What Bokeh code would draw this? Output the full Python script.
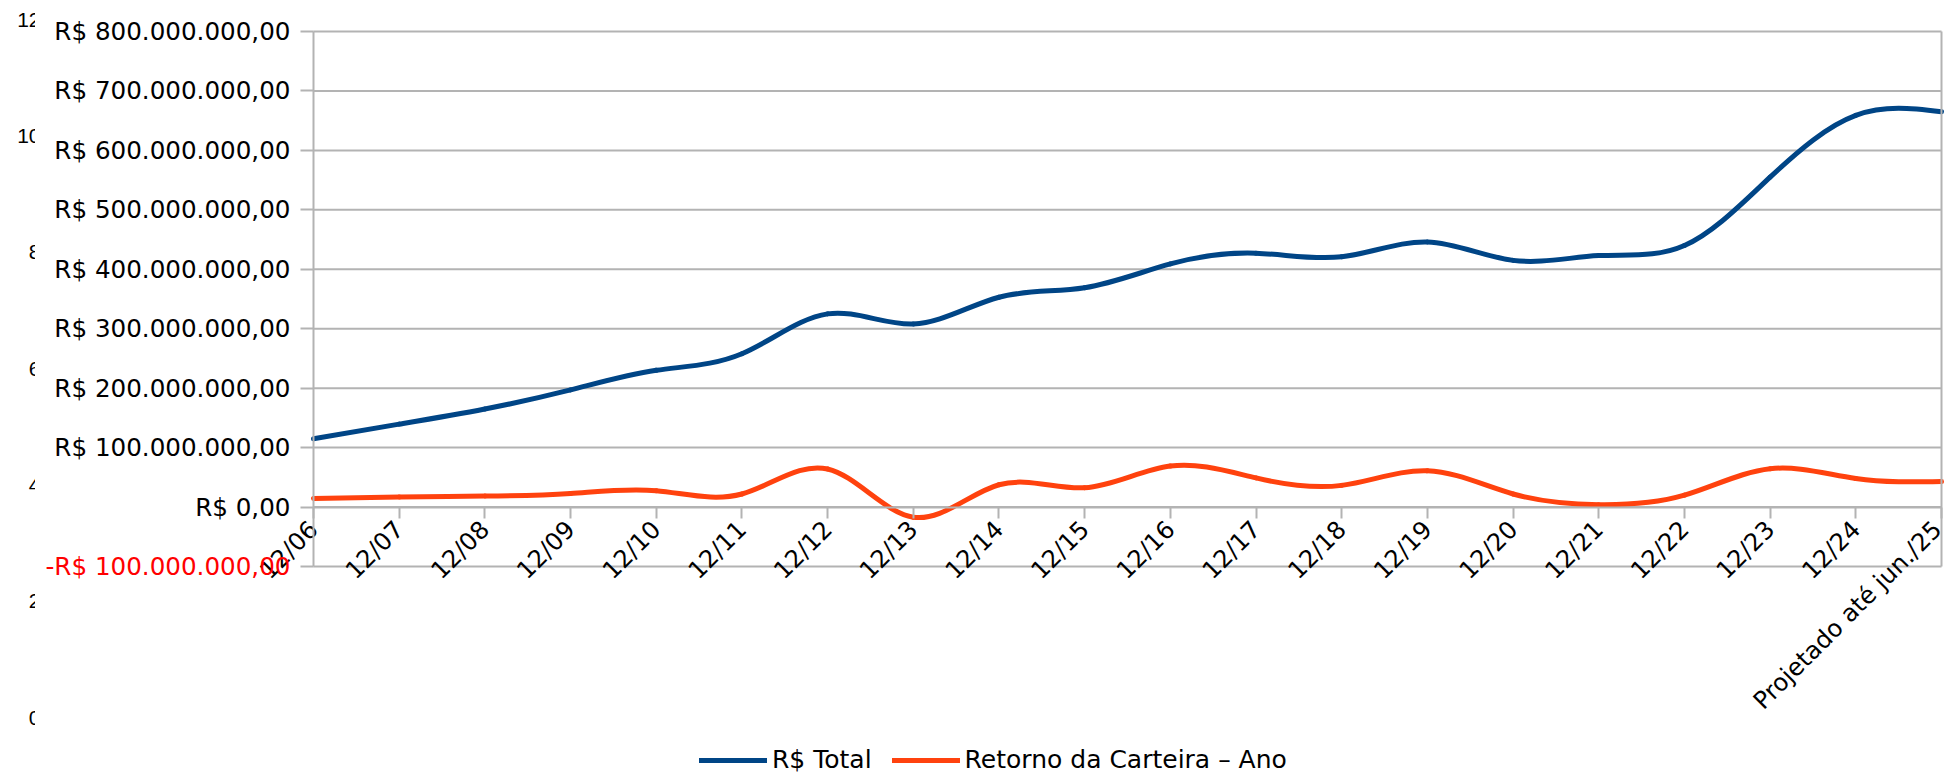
import math
import numpy as np
from bokeh.plotting import figure
from bokeh.models import (Range1d, FixedTicker, LinearAxis, Legend, LegendItem,
                          ColumnDataSource)
from bokeh.layouts import row
from bokeh.core.properties import value
from bokeh.embed import file_html
from bokeh.resources import INLINE

# ---------------- data ----------------
categories = ["12/06", "12/07", "12/08", "12/09", "12/10", "12/11", "12/12", "12/13",
              "12/14", "12/15", "12/16", "12/17", "12/18", "12/19", "12/20", "12/21",
              "12/22", "12/23", "12/24", "Projetado até jun./25"]
total_mi = [115, 139.5, 165, 197, 230, 258, 325, 308, 353, 369, 409, 427, 421, 446,
            415, 423, 440, 555, 659, 665]
retorno_mi = [14.6, 17, 18.5, 23, 27.5, 22, 64, -17, 37.5, 32.5, 69, 49, 36.5, 61,
              22, 4, 20, 64.5, 48, 43]
y_ticks = [-100000000, 0, 100000000, 200000000, 300000000, 400000000, 500000000,
           600000000, 700000000, 800000000]
ghost_ticks = [0, 2, 4, 6, 8, 10, 12]
series_names = ["R$ Total", "Retorno da Carteira – Ano"]

FONT = "DejaVu Sans"
GRID = "#b3b3b3"
BLUE = "#004586"
ORANGE = "#ff420e"


def brl(v):
    s = f"{abs(v):,.2f}".replace(",", "X").replace(".", ",").replace("X", ".")
    return ("-R$ " if v < 0 else "R$ ") + s


def spline_bezier(ys):
    """natural cubic spline through the points, expressed as bezier segments"""
    y = np.asarray(ys, dtype=float)
    n = len(y) - 1
    A = np.zeros((n + 1, n + 1))
    b = np.zeros(n + 1)
    A[0, 0] = 1
    A[n, n] = 1
    for i in range(1, n):
        A[i, i - 1] = 1
        A[i, i] = 4
        A[i, i + 1] = 1
        b[i] = 6 * (y[i + 1] - 2 * y[i] + y[i - 1])
    M = np.linalg.solve(A, b)
    x0 = np.arange(n, dtype=float)
    x1 = x0 + 1
    y0 = y[:-1]
    y1 = y[1:]
    d = y1 - y0
    dl = d - (2 * M[:-1] + M[1:]) / 6
    dr = d + (M[:-1] + 2 * M[1:]) / 6
    return dict(x0=x0, y0=y0, x1=x1, y1=y1,
                cx0=x0 + 1 / 3, cy0=y0 + dl / 3,
                cx1=x1 - 1 / 3, cy1=y1 - dr / 3)


total = [v * 1e6 for v in total_mi]
retorno = [v * 1e6 for v in retorno_mi]
n_last = len(categories) - 1
y_min, y_max = min(y_ticks), max(y_ticks)

# ---------------- layout (pixels) ----------------
W, H = 1947, 775
GW = 35                      # width of the clipped hidden-axis strip
FRAME_L, FRAME_R = 313, 1941  # x of first / last category
FRAME_T, FRAME_B = 31, 566    # y of top / bottom tick

# ---------------- hidden secondary axis (clipped labels) ----------------
upp = (max(ghost_ticks) - min(ghost_ticks)) / (717 - 19)
g = figure(width=GW, height=H, output_backend="svg", toolbar_location=None,
           x_range=Range1d(0, GW),
           y_range=Range1d(min(ghost_ticks) - (H - 717) * upp, max(ghost_ticks) + 19 * upp),
           x_axis_type=None, y_axis_type=None, min_border=0)
g.outline_line_color = None
g.xgrid.visible = False
g.ygrid.visible = False
g.text(x=[40] * len(ghost_ticks), y=ghost_ticks, text=[str(t) for t in ghost_ticks],
       text_font=value("Liberation Sans"), text_font_size="21px", text_color="#000000",
       text_align="right", text_baseline="middle")

# ---------------- main chart ----------------
MW = W - GW
ppx = (FRAME_R - FRAME_L) / n_last
ppy = (FRAME_B - FRAME_T) / (y_max - y_min)
x_range = Range1d(-(FRAME_L - GW) / ppx, n_last + (W - FRAME_R) / ppx)
y_range = Range1d(y_min - (H - FRAME_B) / ppy, y_max + FRAME_T / ppy)

p = figure(width=MW, height=H, output_backend="svg", toolbar_location=None,
           x_range=x_range, y_range=y_range, x_axis_type=None, y_axis_type=None,
           min_border=0)
p.outline_line_color = None
p.xgrid.visible = False
p.ygrid.visible = False
p.background_fill_color = "white"
p.border_fill_color = "white"

# horizontal grid lines across the category span
p.segment(x0=[0] * len(y_ticks), x1=[n_last] * len(y_ticks), y0=y_ticks, y1=y_ticks,
          line_color=GRID, line_width=2)


def style_y(ax, color):
    ax.axis_line_color = GRID
    ax.axis_line_width = 2
    ax.major_tick_line_color = GRID
    ax.major_tick_line_width = 2
    ax.major_tick_out = 13
    ax.major_tick_in = 0
    ax.minor_tick_line_color = None
    ax.major_label_standoff = 10
    ax.major_label_text_font = FONT
    ax.major_label_text_font_size = "24.6px"
    ax.major_label_text_color = color


pos_ticks = [t for t in y_ticks if t >= 0]
neg_ticks = [t for t in y_ticks if t < 0]
yax = LinearAxis(ticker=FixedTicker(ticks=pos_ticks),
                 major_label_overrides={t: brl(t) for t in pos_ticks},
                 fixed_location=0, bounds=(y_min, y_max))
style_y(yax, "#000000")
p.add_layout(yax, "left")

yneg = LinearAxis(ticker=FixedTicker(ticks=neg_ticks),
                  major_label_overrides={t: brl(t) for t in neg_ticks},
                  fixed_location=0, bounds=(y_min, y_max))
style_y(yneg, "#ff0000")
yneg.axis_line_color = None
p.add_layout(yneg, "left")

# right border of the plot area
yright = LinearAxis(ticker=FixedTicker(ticks=[]), fixed_location=n_last,
                    bounds=(y_min, y_max))
yright.axis_line_color = GRID
yright.axis_line_width = 2
yright.major_tick_line_color = None
yright.minor_tick_line_color = None
yright.major_label_text_font_size = "0px"
p.add_layout(yright, "right")

xax = LinearAxis(ticker=FixedTicker(ticks=list(range(len(categories)))),
                 major_label_overrides={i: c for i, c in enumerate(categories)},
                 fixed_location=0, bounds=(0, n_last))
xax.axis_line_color = GRID
xax.axis_line_width = 2
xax.major_tick_line_color = GRID
xax.major_tick_line_width = 2
xax.major_tick_out = 11
xax.major_tick_in = 0
xax.minor_tick_line_color = None
xax.major_label_orientation = math.pi / 4
xax.major_label_standoff = 7
xax.major_label_text_font = FONT
xax.major_label_text_font_size = "24.3px"
xax.major_label_text_color = "#000000"
p.add_layout(xax, "below")

r_total = p.bezier(x0="x0", y0="y0", x1="x1", y1="y1", cx0="cx0", cy0="cy0",
                   cx1="cx1", cy1="cy1", source=ColumnDataSource(spline_bezier(total)),
                   line_color=BLUE, line_width=5, line_cap="round")
r_ret = p.bezier(x0="x0", y0="y0", x1="x1", y1="y1", cx0="cx0", cy0="cy0",
                 cx1="cx1", cy1="cy1", source=ColumnDataSource(spline_bezier(retorno)),
                 line_color=ORANGE, line_width=5, line_cap="round")

legend = Legend(items=[LegendItem(label=series_names[0], renderers=[r_total]),
                       LegendItem(label=series_names[1], renderers=[r_ret])],
                orientation="horizontal", location=(699 - GW, 1),
                glyph_width=68, glyph_height=24, label_standoff=5, spacing=20,
                padding=0, margin=0, border_line_color=None,
                background_fill_alpha=0,
                label_text_font=FONT, label_text_font_size="25px",
                label_text_color="#000000")
p.add_layout(legend, "center")

layout = row(g, p)
open("out.html", "w").write(file_html(layout, INLINE))
